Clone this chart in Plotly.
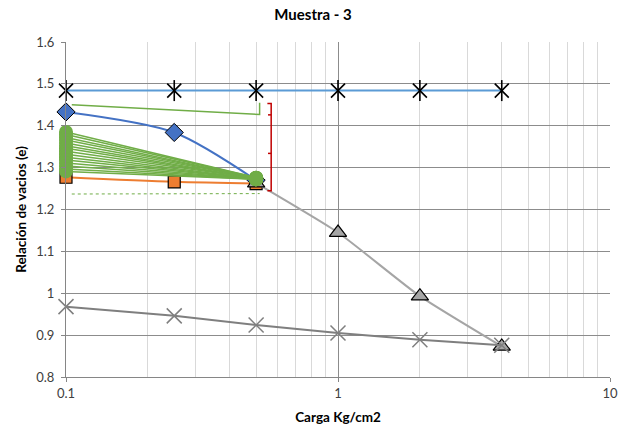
import plotly.graph_objects as go

# Load steps (kg/cm2)
cargas = [0.1, 0.25, 0.5, 1, 2, 4]

# Reference line (asterisks)
e_ref = [1.484, 1.484, 1.484, 1.484, 1.484, 1.484]

# Loading curve (diamonds)
x_diam = [0.1, 0.25, 0.5]
e_diam = [1.433, 1.384, 1.270]

# Orange squares
x_sq = [0.1, 0.25, 0.5]
e_sq = [1.277, 1.266, 1.262]

# Consolidation branch (triangles)
x_tri = [0.5, 1, 2, 4]
e_tri = [1.263, 1.145, 0.993, 0.873]

# Lower curve (crosses)
e_cross = [0.968, 0.946, 0.924, 0.905, 0.889, 0.876]

# Green fan: start values at 0.1 and end values at 0.5
x_fan = [0.1, 0.5]
fan_start = [1.385, 1.379, 1.372, 1.366, 1.359, 1.352, 1.346, 1.339,
             1.332, 1.325, 1.318, 1.311, 1.304, 1.297, 1.291]
fan_end = [1.276, 1.276, 1.275, 1.275, 1.275, 1.274, 1.274, 1.274,
           1.273, 1.273, 1.273, 1.272, 1.272, 1.272, 1.272]

# Green upper guide and dotted lower guide
x_guide = [0.105, 0.515, 0.515]
e_guide = [1.450, 1.427, 1.455]
x_dot = [0.105, 0.515]
e_dot = [1.237, 1.238]

# Red bracket
x_br = [0.550, 0.568, 0.568, 0.550, None, 0.553, 0.568, None, 0.553, 0.568]
e_br = [1.453, 1.453, 1.245, 1.245, None, 1.426, 1.426, None, 1.334, 1.334]

GREEN = "#70ad47"

fig = go.Figure()

# asterisk series: X plus vertical bar
fig.add_trace(go.Scatter(x=cargas, y=e_ref, mode="lines",
                         line=dict(color="#5b9bd5", width=2)))
fig.add_trace(go.Scatter(x=cargas, y=e_ref, mode="markers", cliponaxis=False,
                         marker=dict(symbol="x-thin-open", size=14, color="black",
                                     line=dict(color="black", width=1.6))))
fig.add_trace(go.Scatter(x=cargas, y=e_ref, mode="markers", cliponaxis=False,
                         marker=dict(symbol="line-ns-open", size=15, color="black",
                                     line=dict(color="black", width=1.6))))

fig.add_trace(go.Scatter(x=x_diam, y=e_diam, mode="lines+markers", cliponaxis=False,
                         line=dict(color="#4472c4", width=2, shape="spline", smoothing=0.8),
                         marker=dict(symbol="diamond", size=14, color="#4472c4",
                                     line=dict(color="black", width=1))))

fig.add_trace(go.Scatter(x=x_sq, y=e_sq, mode="lines+markers", cliponaxis=False,
                         line=dict(color="#ed7d31", width=2, shape="spline", smoothing=0.8),
                         marker=dict(symbol="square", size=12, color="#ed7d31",
                                     line=dict(color="black", width=1.2))))

fig.add_trace(go.Scatter(x=x_tri, y=e_tri, mode="lines+markers", cliponaxis=False,
                         line=dict(color="#a5a5a5", width=2, shape="spline", smoothing=0.5),
                         marker=dict(symbol="triangle-up", size=15, color="#a5a5a5",
                                     line=dict(color="black", width=1.2))))

fig.add_trace(go.Scatter(x=cargas, y=e_cross, mode="lines+markers", cliponaxis=False,
                         line=dict(color="#7f7f7f", width=2),
                         marker=dict(symbol="x-thin-open", size=15, color="#7f7f7f",
                                     line=dict(color="#7f7f7f", width=1.5))))

fig.add_trace(go.Scatter(x=x_guide, y=e_guide, mode="lines",
                         line=dict(color=GREEN, width=1.5)))
fig.add_trace(go.Scatter(x=x_dot, y=e_dot, mode="lines",
                         line=dict(color=GREEN, width=1, dash="dot")))

for y0, y1 in zip(fan_start, fan_end):
    fig.add_trace(go.Scatter(x=x_fan, y=[y0, y1], mode="lines+markers", cliponaxis=False,
                             line=dict(color=GREEN, width=1.5),
                             marker=dict(symbol="circle", size=14, color=GREEN)))

fig.add_trace(go.Scatter(x=x_br, y=e_br, mode="lines",
                         line=dict(color="#c00000", width=1.5)))

minor_vals = [v * m for m in (0.1, 1) for v in (2, 3, 4, 5, 6, 7, 8, 9)]

fig.update_layout(
    width=626, height=427,
    margin=dict(l=66, r=16, t=41.5, b=50),
    paper_bgcolor="white", plot_bgcolor="white",
    showlegend=False,
    font=dict(family="Lato", size=12, color="#404040"),
    title=dict(text="<b>Muestra - 3</b>", x=0.5, xanchor="center", y=0.965, yanchor="middle",
               font=dict(family="Lato", size=15, color="black")),
    xaxis=dict(
        type="log", range=[-1, 1], automargin=False,
        tickvals=[0.1, 1, 10], ticktext=["0.1", "1", "10"],
        showgrid=True, gridcolor="#8c8c8c", gridwidth=1,
        minor=dict(tickvals=minor_vals, showgrid=True, gridcolor="#d9d9d9", gridwidth=1),
        ticks="outside", ticklen=4, tickcolor="#868686",
        showline=True, linecolor="#868686", linewidth=1,
        zeroline=False,
        tickfont=dict(size=13, color="#404040"),
        title=dict(text="<b>Carga Kg/cm2</b>", standoff=12,
                   font=dict(family="Lato", size=13.5, color="black")),
    ),
    yaxis=dict(
        range=[0.8, 1.6], dtick=0.1, tick0=0.8, automargin=False,
        showgrid=True, gridcolor="#8c8c8c", gridwidth=1,
        ticks="outside", ticklen=4, tickcolor="#868686",
        showline=True, linecolor="#868686", linewidth=1,
        zeroline=False,
        ticklabelstandoff=4,
        tickfont=dict(size=13, color="#404040"),
        title=dict(text="<b>Relación de vacios (e)</b>", standoff=6,
                   font=dict(family="Lato", size=13.5, color="black")),
    ),
)

fig.write_html("out.html")
